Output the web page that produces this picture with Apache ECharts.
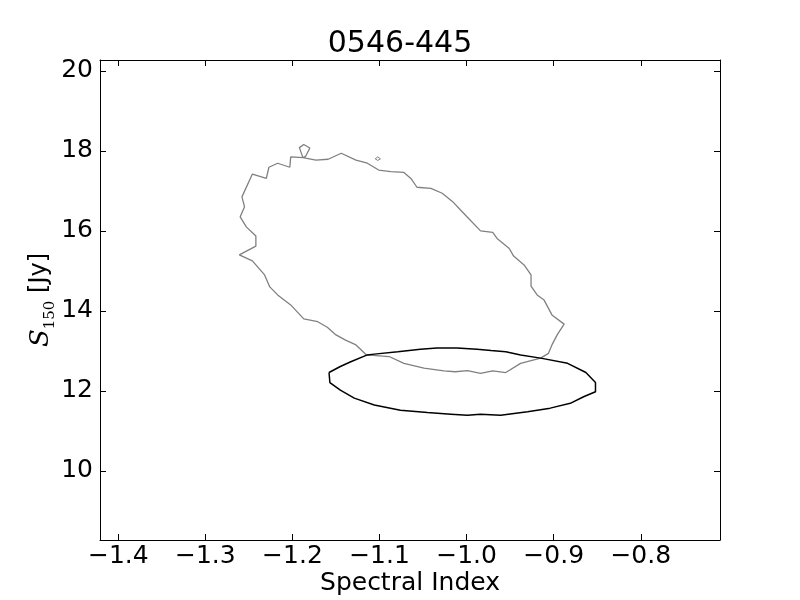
<!DOCTYPE html>
<html>
<head>
<meta charset="utf-8">
<script src="https://cdn.jsdelivr.net/npm/echarts@6/dist/echarts.min.js"></script>
<style>
  html, body { margin: 0; background: #fff; }
  #chart { width: 800px; height: 600px; }
</style>
</head>
<body>
<div id="chart"></div>
<script>
// outer (grey) contour, incl. the small loop at the top
const grayX = [-1.188,-1.173,-1.159,-1.144,-1.127,-1.114,-1.101,-1.087,-1.072,-1.064,-1.057,-1.041,-1.028,-1.016,-1.007,-0.999,-0.984,-0.970,-0.965,-0.951,-0.946,-0.934,-0.926,-0.926,-0.919,-0.911,-0.902,-0.888,-0.896,-0.902,-0.906,-0.915,-0.938,-0.955,-0.970,-0.984,-0.999,-1.013,-1.026,-1.049,-1.072,-1.089,-1.115,-1.127,-1.139,-1.150,-1.160,-1.171,-1.187,-1.202,-1.217,-1.226,-1.232,-1.246,-1.261,-1.242,-1.242,-1.253,-1.260,-1.255,-1.258,-1.246,-1.230,-1.227,-1.217,-1.203,-1.202,-1.188,-1.185,-1.180,-1.187,-1.192,-1.188]
const grayY = [17.83,17.77,17.79,17.94,17.77,17.69,17.52,17.48,17.46,17.31,17.09,17.06,16.94,16.73,16.52,16.34,16.00,15.96,15.81,15.56,15.37,15.15,14.90,14.62,14.40,14.27,13.90,13.67,13.40,13.15,12.94,12.82,12.69,12.46,12.50,12.44,12.51,12.48,12.50,12.57,12.69,12.86,12.90,13.15,13.27,13.40,13.59,13.73,13.80,14.15,14.40,14.60,14.90,15.25,15.40,15.62,15.87,16.10,16.35,16.60,16.85,17.42,17.31,17.59,17.69,17.59,17.85,17.83,17.86,18.07,18.16,18.08,17.83]

// tiny grey island
const dotX = [-1.105,-1.102,-1.099,-1.102,-1.105]
const dotY = [17.80,17.85,17.80,17.76,17.80]

// black contour
const blackX = [-1.158,-1.157,-1.145,-1.129,-1.106,-1.076,-1.045,-1.018,-0.999,-0.984,-0.961,-0.930,-0.904,-0.881,-0.865,-0.852,-0.852,-0.863,-0.884,-0.915,-0.938,-0.955,-0.972,-0.988,-1.011,-1.034,-1.053,-1.079,-1.106,-1.114,-1.133,-1.145,-1.158]
const blackY = [12.46,12.21,12.02,11.82,11.65,11.52,11.46,11.42,11.39,11.42,11.39,11.48,11.57,11.69,11.86,11.98,12.21,12.46,12.69,12.82,12.90,12.98,13.01,13.04,13.07,13.07,13.04,12.98,12.92,12.90,12.73,12.61,12.46]

const xRange = [-1.421, -0.709]
const yRange = [8.275, 20.27]

const zip = (xs, ys) => xs.map((x, i) => [x, ys[i]])
const fmtX = v => (v < 0 ? '\u2212' : '') + Math.abs(v).toFixed(1)

const font = 'DejaVu Sans'
const tickStyle = { inside: true, length: 6, lineStyle: { color: '#000', width: 1 } }
const lineAxis = { show: true, lineStyle: { color: '#000', width: 1 } }

function contour(data, color, width) {
  return {
    type: 'line',
    data,
    showSymbol: false,
    symbol: 'none',
    silent: true,
    animation: false,
    lineStyle: { color, width },
  }
}

const chart = echarts.init(document.getElementById('chart'))
chart.setOption({
  animation: false,
  backgroundColor: '#fff',
  title: {
    text: '0546-445',
    left: 'center',
    top: 24,
    textStyle: { fontFamily: font, fontSize: 30, fontWeight: 'normal', color: '#000' },
  },
  grid: { left: 100, right: 80, top: 60, bottom: 60, outerBoundsMode: 'none', containLabel: false },
  xAxis: [
    {
      type: 'value',
      min: xRange[0], max: xRange[1],
      splitNumber: 7,
      name: 'Spectral Index',
      nameLocation: 'middle',
      nameGap: 31,
      nameMoveOverlap: false,
      nameTextStyle: { fontFamily: font, fontSize: 25, color: '#000' },
      axisLine: lineAxis,
      axisTick: tickStyle,
      splitLine: { show: false },
      axisLabel: {
        fontFamily: font, fontSize: 25, color: '#000', margin: 4,
        showMinLabel: false, showMaxLabel: false,
        formatter: fmtX,
      },
    },
    {
      type: 'value', position: 'top',
      min: xRange[0], max: xRange[1],
      splitNumber: 7,
      axisLine: lineAxis,
      axisTick: tickStyle,
      splitLine: { show: false },
      axisLabel: { show: false },
    },
  ],
  yAxis: [
    {
      type: 'value',
      min: yRange[0], max: yRange[1],
      splitNumber: 6,
      name: '{s|S}{sub|150}{n| [Jy]}',
      nameLocation: 'middle',
      nameRotate: 90,
      nameGap: 42,
      nameMoveOverlap: false,
      nameTextStyle: {
        color: '#000',
        rich: {
          s: { fontFamily: 'DejaVu Serif', fontStyle: 'italic', fontSize: 26, color: '#000', lineHeight: 30, verticalAlign: 'top' },
          sub: { fontFamily: 'DejaVu Serif', fontSize: 15, color: '#000', lineHeight: 30, verticalAlign: 'bottom' },
          n: { fontFamily: font, fontSize: 24, color: '#000', lineHeight: 30, verticalAlign: 'top' },
        },
      },
      axisLine: lineAxis,
      axisTick: tickStyle,
      splitLine: { show: false },
      axisLabel: {
        fontFamily: font, fontSize: 25, color: '#000', margin: 7,
        showMinLabel: false, showMaxLabel: false,
      },
    },
    {
      type: 'value', position: 'right',
      min: yRange[0], max: yRange[1],
      splitNumber: 6,
      axisLine: lineAxis,
      axisTick: tickStyle,
      splitLine: { show: false },
      axisLabel: { show: false },
    },
  ],
  series: [
    contour(zip(grayX, grayY), '#808080', 1.3),
    contour(zip(dotX, dotY), '#808080', 1),
    contour(zip(blackX, blackY), '#000', 1.5),
  ],
})
</script>
</body>
</html>
